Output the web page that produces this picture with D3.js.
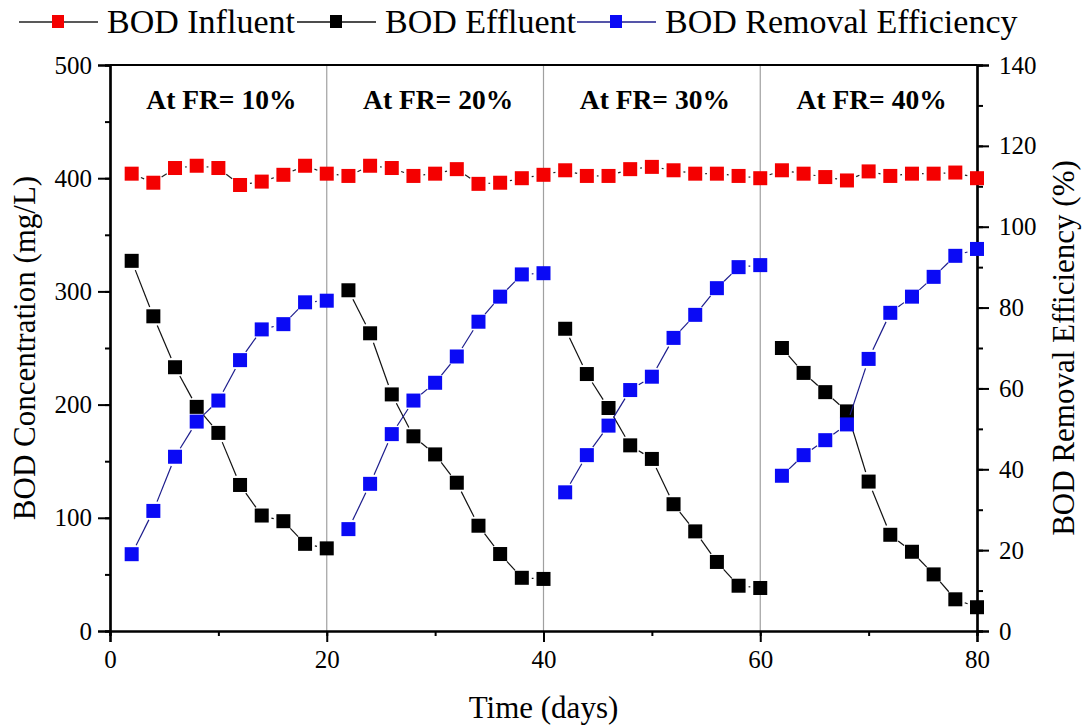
<!DOCTYPE html>
<html lang="en">
<meta charset="UTF-8">
<title>BOD chart</title>
<style>
body { margin: 0; background: #fff; }
text { font-family: "Liberation Serif", "Times New Roman", serif; fill: #000; }
</style>
<script src="https://d3js.org/d3.v7.min.js"></script>
<body>
<svg id="chart" width="1086" height="728"></svg>
<script>
// days 2..80
const days = [2,4,6,8,10,12,14,16,18,20,22,24,26,28,30,32,34,36,38,40,
              42,44,46,48,50,52,54,56,58,60,62,64,66,68,70,72,74,76,78,80];
const influent = [404,396,409,411,409,394,397,403,411,404,402,411,409,402,404,408,395,396,400,403,
                  407,402,402,408,410,407,404,404,402,400,407,404,401,398,406,402,404,404,405,400];
const effluent = [327,278,233,198,175,129,102,97,77,73,301,263,209,172,156,131,93,68,47,46,
                  267,227,197,164,152,112,88,61,40,38,250,228,211,194,132,85,70,50,28,21];
const efficiency = [19.0,29.7,43.1,51.8,57.0,67.0,74.6,75.9,81.3,81.7,25.2,36.4,48.7,57.0,61.4,67.9,76.5,82.7,88.2,88.5,
                    34.3,43.5,50.8,59.6,62.9,72.5,78.2,84.8,90.0,90.5,38.4,43.5,47.2,51.1,67.3,78.7,82.7,87.6,92.8,94.5];
const phaseLabels = ["At FR= 10%", "At FR= 20%", "At FR= 30%", "At FR= 40%"];
const phaseBounds = [0, 20, 40, 60, 80];
const legendNames = ["BOD Influent", "BOD Effluent", "BOD Removal Efficiency"];

const margin = {left: 110, right: 109, top: 65, bottom: 97};
const W = 1086, H = 728;
const svg = d3.select("#chart");

const x = d3.scaleLinear().domain([0, 80]).range([margin.left, W - margin.right]);
const yL = d3.scaleLinear().domain([0, 500]).range([H - margin.bottom, margin.top]);
const yR = d3.scaleLinear().domain([0, 140]).range([H - margin.bottom, margin.top]);

// phase separators
svg.selectAll("line.sep").data(phaseBounds.slice(1, 4)).enter().append("line")
  .attr("x1", d => x(d)).attr("x2", d => x(d))
  .attr("y1", margin.top).attr("y2", H - margin.bottom)
  .attr("stroke", "#a0a0a0").attr("stroke-width", 1.2);

// phase labels
svg.selectAll("text.phase").data(phaseLabels).enter().append("text")
  .attr("x", (d, i) => x((phaseBounds[i] + phaseBounds[i + 1]) / 2) + 3)
  .attr("y", 109)
  .attr("text-anchor", "middle")
  .attr("font-weight", "bold")
  .attr("font-size", 27.5)
  .text(d => d);

// axes
function styleAxis(g) {
  g.attr("font-family", "Liberation Serif, serif");
  g.select(".domain").attr("stroke-width", 2.2);
  g.selectAll(".tick line").attr("stroke-width", 2);
  g.selectAll(".tick text").attr("font-size", 25);
}
svg.append("g").attr("transform", `translate(0,${H - margin.bottom})`)
  .call(d3.axisBottom(x).tickValues(d3.range(0, 81, 10)).tickSize(5).tickFormat(""))
  .call(styleAxis);
svg.append("g").attr("transform", `translate(0,${H - margin.bottom})`)
  .call(d3.axisBottom(x).tickValues([0, 20, 40, 60, 80]).tickSize(11).tickPadding(8))
  .call(styleAxis);

svg.append("g").attr("transform", `translate(${margin.left},0)`)
  .call(d3.axisLeft(yL).tickValues(d3.range(0, 501, 50)).tickSize(5).tickFormat(""))
  .call(styleAxis);
svg.append("g").attr("transform", `translate(${margin.left},0)`)
  .call(d3.axisLeft(yL).tickValues(d3.range(0, 501, 100)).tickSize(12).tickPadding(6))
  .call(styleAxis);

svg.append("g").attr("transform", `translate(${W - margin.right},0)`)
  .call(d3.axisRight(yR).tickValues(d3.range(0, 141, 10)).tickSize(6).tickFormat(""))
  .call(styleAxis);
svg.append("g").attr("transform", `translate(${W - margin.right},0)`)
  .call(d3.axisRight(yR).tickValues(d3.range(0, 141, 20)).tickSize(12).tickPadding(10))
  .call(styleAxis);

// top border
svg.append("line")
  .attr("x1", margin.left).attr("x2", W - margin.right)
  .attr("y1", margin.top).attr("y2", margin.top)
  .attr("stroke", "#000").attr("stroke-width", 2.2);

// axis titles
svg.append("text").attr("x", x(40)).attr("y", 718).attr("text-anchor", "middle")
  .attr("font-size", 31).text("Time (days)");
svg.append("text").attr("transform", `translate(35,${yL(250)}) rotate(-90)`)
  .attr("text-anchor", "middle").attr("font-size", 31).text("BOD Concentration (mg/L)");
svg.append("text").attr("transform", `translate(1074,${yL(250)}) rotate(-90)`)
  .attr("text-anchor", "middle").attr("font-size", 31).text("BOD Removal Efficiency (%)");

// series: line pieces stop short of markers, like Origin plots
const gap = 10, ms = 14;
function drawSeries(vals, yScale, color, lineColor, breakAt) {
  const pts = days.map((d, i) => [x(d), yScale(vals[i]), d]);
  const segs = [];
  for (let i = 0; i < pts.length - 1; i++) {
    if (breakAt && breakAt.includes(pts[i][2])) continue;
    const [x1, y1] = pts[i], [x2, y2] = pts[i + 1];
    const len = Math.hypot(x2 - x1, y2 - y1);
    if (len <= 2 * gap) continue;
    const ux = (x2 - x1) / len, uy = (y2 - y1) / len;
    segs.push([x1 + ux * gap, y1 + uy * gap, x2 - ux * gap, y2 - uy * gap]);
  }
  svg.append("g").selectAll("line").data(segs).enter().append("line")
    .attr("x1", d => d[0]).attr("y1", d => d[1])
    .attr("x2", d => d[2]).attr("y2", d => d[3])
    .attr("stroke", lineColor).attr("stroke-width", 1.2);
  svg.append("g").selectAll("rect").data(pts).enter().append("rect")
    .attr("x", d => d[0] - ms / 2).attr("y", d => d[1] - ms / 2)
    .attr("width", ms).attr("height", ms)
    .attr("fill", color);
}
drawSeries(influent, yL, "#f40000", "#222", null);
drawSeries(effluent, yL, "#000", "#111", [20, 40, 60]);
drawSeries(efficiency, yR, "#0a0af5", "#1c1c8c", [20, 40, 60]);

// legend
const legendColors = ["#f40000", "#000", "#0a0af5"];
const legendLines = ["#222", "#111", "#1c1c8c"];
const legendX = [19, 297, 577];
const lg = svg.append("g");
legendNames.forEach((name, i) => {
  const g = lg.append("g").attr("transform", `translate(${legendX[i]},22)`);
  g.append("line").attr("x1", 0).attr("x2", 79).attr("y1", 0).attr("y2", 0)
    .attr("stroke", legendLines[i]).attr("stroke-width", 1.5);
  g.append("rect").attr("x", 33).attr("y", -7).attr("width", 12).attr("height", 13)
    .attr("fill", legendColors[i]);
  g.append("text").attr("x", 88).attr("y", 11).attr("font-size", 34).text(name);
});
</script>
</body>
</html>
